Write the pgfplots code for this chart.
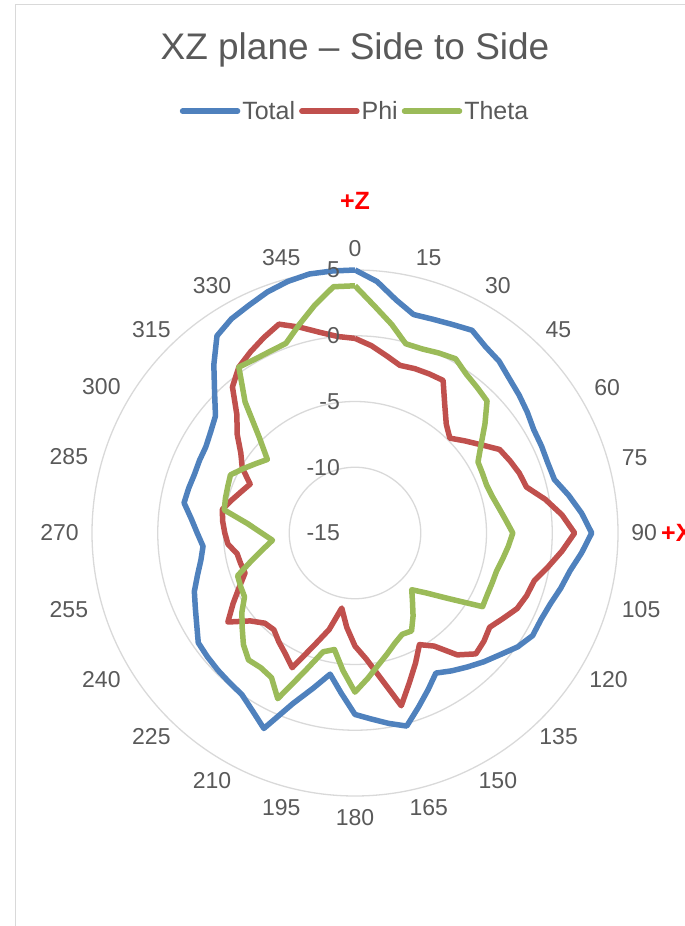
\documentclass[border=0pt]{standalone}
\usepackage{fontspec}
\setmainfont{Liberation Sans}
\usepackage{pgfplots}
\pgfplotsset{compat=1.18}
\usepgfplotslibrary{polar}
\usepackage{pgfplotstable}
\definecolor{cTotal}{HTML}{4F81BD}
\definecolor{cPhi}{HTML}{C0504D}
\definecolor{cTheta}{HTML}{9BBB59}
\definecolor{txt}{HTML}{595959}
\definecolor{gridc}{HTML}{D9D9D9}

\pgfplotstableread{
a total phi theta
0 5.0 -0.2 3.8
5 4.2 -0.7 2.3
10 3.0 -1.3 1.1
15 2.2 -1.8 -0.1
20 2.3 -1.7 -0.1
25 2.5 -1.65 0.1
30 2.8 -1.6 0.3
35 2.3 -3.1 -0.25
40 2.05 -4.2 -0.55
45 1.6 -4.8 -0.8
50 1.3 -4.1 -2.1
55 1.0 -3.3 -3.3
60 0.7 -2.3 -4.2
65 0.65 -2.0 -4.3
70 0.6 -1.7 -4.35
75 0.7 -1.5 -4.2
80 1.5 -0.3 -3.9
85 2.3 0.8 -3.5
90 3.0 1.7 -3.0
95 2.3 0.8 -3.3
100 1.6 -0.1 -3.6
105 1.2 -0.9 -3.85
110 0.8 -1.1 -3.9
115 0.6 -1.4 -3.9
120 0.6 -2.0 -3.8
125 0.1 -2.5 -6.3
130 -0.6 -2.2 -7.9
135 -1.15 -2.0 -8.9
140 -1.7 -2.9 -8.2
145 -2.2 -4.5 -7.3
150 -2.7 -5.2 -6.4
155 -1.85 -4.1 -6.5
160 -0.9 -2.9 -6.1
165 0.2 -1.4 -5.5
170 -0.3 -3.8 -4.8
175 -0.8 -5.4 -3.9
180 -1.2 -6.4 -2.9
185 -2.8 -7.8 -4.5
190 -4.1 -9.2 -6.0
195 -2.8 -7.4 -5.65
200 -1.2 -5.9 -3.8
205 1.4 -3.7 -1.1
210 0.6 -4.4 -2.3
215 0.0 -4.9 -2.5
220 -0.15 -5.4 -2.4
225 -0.25 -5.3 -3.0
230 -0.35 -4.6 -3.8
235 -0.45 -3.2 -4.5
240 -1.1 -4.3 -5.3
245 -1.6 -5.3 -5.4
250 -2.0 -6.1 -5.5
255 -2.6 -6.0 -6.85
260 -3.1 -5.9 -7.9
265 -3.4 -5.3 -8.7
270 -3.0 -5.1 -7.9
275 -2.5 -4.9 -6.8
280 -1.8 -4.75 -4.9
285 -1.9 -5.3 -4.8
290 -2.0 -5.8 -4.7
295 -1.95 -6.2 -4.55
300 -1.9 -5.1 -5.2
305 -1.6 -4.4 -5.8
310 -1.15 -3.3 -6.3
315 0.1 -2.3 -4.7
320 1.7 -0.5 -2.0
325 3.3 0.4 0.4
330 3.8 0.9 0.25
335 4.1 1.4 0.25
340 4.5 1.9 0.35
345 4.8 1.2 1.4
350 5.0 0.5 2.6
355 5.0 0.0 3.8
360 5.0 -0.2 3.8
}\datatab

\begin{document}
\begin{tikzpicture}[x=1pt,y=1pt]
\clip (0,0) rectangle (685,926);
\draw[gridc, line width=1pt] (15,0) -- (15,921) -- (685,921);
\node[anchor=base, text=txt, font=\fontsize{37}{44}\selectfont] at (355,866) {XZ plane -- Side to Side};
\node[anchor=base, text=red, font=\fontsize{25}{30}\selectfont\bfseries] at (355,716) {+Z};
\node[anchor=base west, text=red, font=\fontsize{25}{30}\selectfont\bfseries, inner sep=0pt] at (661,384) {+X};
\begin{polaraxis}[
  at={(355pt,393pt)}, anchor=center,
  scale only axis, width=526pt, height=526pt,
  ymin=0, ymax=20,
  ytick={5,10,15,20}, yticklabels={},
  y tick label style={text opacity=0, opacity=0},
  xtick=\empty,
  ymajorgrids, xmajorgrids=false,
  y grid style={draw=gridc, line width=1.3pt},
  axis line style={draw=none},
  major tick length=0pt,
  clip=false,
  legend columns=3,
  legend style={at={(axis description cs:0.5,1.302)}, anchor=center, draw=none, fill=none,
    font=\fontsize{25}{29}\selectfont, text=txt,
    nodes={inner sep=2pt},
    /tikz/every even column/.append style={column sep=2pt}},
  legend image code/.code={\draw[#1, line cap=round] (0pt,0pt) -- (55pt,0pt);},
]
\addplot[cTotal, line width=5.5pt, line join=round] table[x expr={90-\thisrow{a}}, y expr={\thisrow{total}+15}] {\datatab};
\addplot[cPhi, line width=5.5pt, line join=round] table[x expr={90-\thisrow{a}}, y expr={\thisrow{phi}+15}] {\datatab};
\addplot[cTheta, line width=5.5pt, line join=round] table[x expr={90-\thisrow{a}}, y expr={\thisrow{theta}+15}] {\datatab};
\legend{Total,Phi,Theta}
\foreach \t/\an in {0/270,15/255,30/240,45/225,60/210,75/195,90/180,105/165,120/150,135/135,150/120,165/105,180/90,195/75,210/60,225/45,240/30,255/15,270/0,285/345,300/330,315/315,330/300,345/285}{
  \edef\tmp{\noexpand\node[anchor=\an, inner sep=0pt, text=txt, font=\noexpand\fontsize{23}{27}\noexpand\selectfont] at (axis cs:\the\numexpr90-\t\relax,21) {\t};}\tmp
}
\foreach \r/\l in {0/-15,5/-10,10/-5,15/0,20/5}{
  \edef\tmp{\noexpand\node[anchor=east, inner sep=0pt, xshift=-15pt, text=txt, font=\noexpand\fontsize{23}{27}\noexpand\selectfont] at (axis cs:90,\r) {\l};}\tmp
}
\end{polaraxis}
\end{tikzpicture}
\end{document}
